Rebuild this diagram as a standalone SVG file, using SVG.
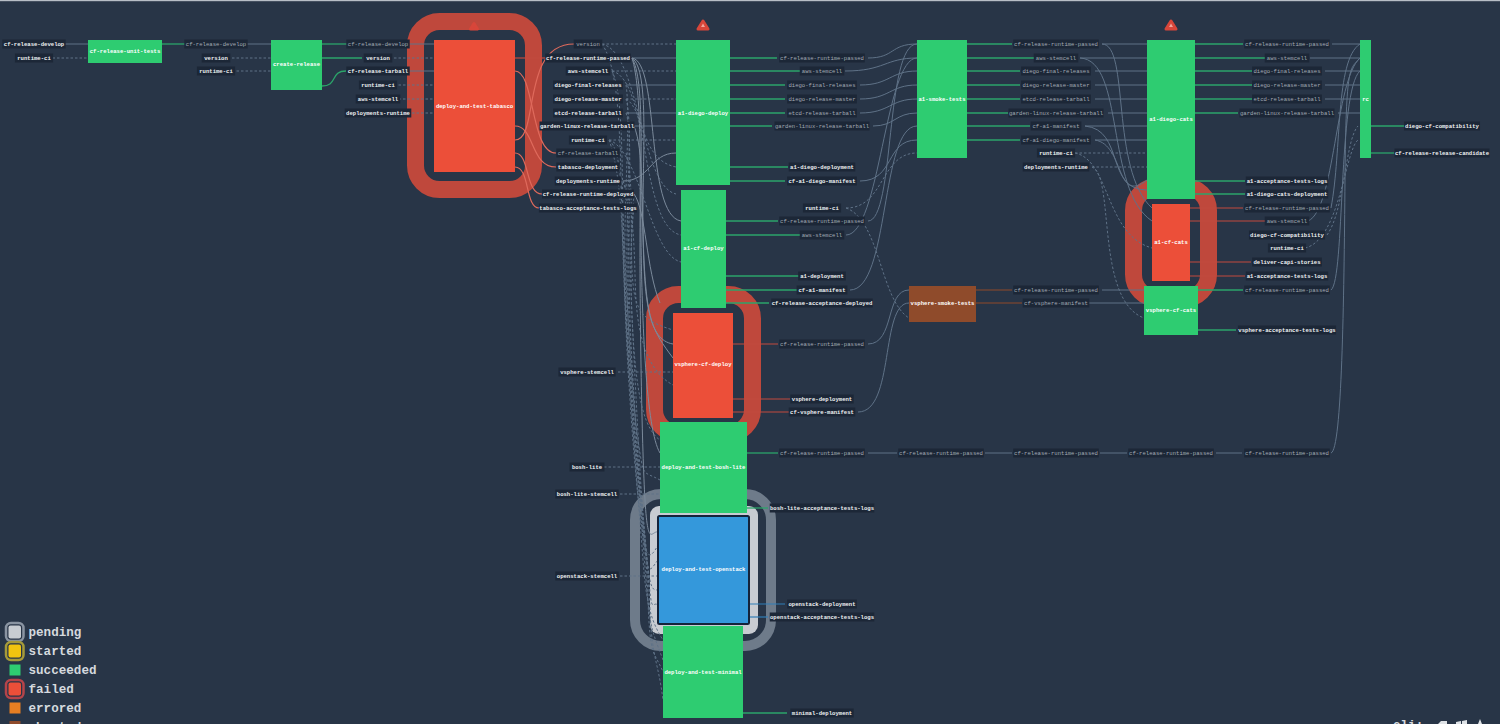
<svg xmlns="http://www.w3.org/2000/svg" width="1500" height="724" viewBox="0 0 1500 724">
<style>
text{font-family:"Liberation Mono","DejaVu Sans Mono",monospace;font-weight:700}
.l rect{fill:#1c2737;transform:scale(.93,.9)}
.l text{font-size:5.6px;fill:#eef0f2;text-anchor:middle}
.l.m text{fill:#a3abb5;font-weight:400}
.n text{font-size:5.6px;fill:#fff;text-anchor:middle}
.s{fill:#2ecc71}.f{fill:#ec4f39}.a{fill:#8f4b2b}.b{fill:#3498db;stroke:#14233a;stroke-width:2}
.h{fill:none;stroke:#bf483c;stroke-width:17}
#c path{fill:none;stroke:#5f7287;stroke-width:1}
#c .d{stroke-dasharray:2.5 2}
#c .v{stroke:#7b8a9b}
#c .g{stroke:#2ba56a;stroke-width:1.3}
#c .r{stroke:#c24a3e;stroke-width:1.2}
#c .p{stroke:#df6a5c;stroke-width:1.2}
#c .w{stroke:#8f4b2b;stroke-width:1.2}
#c .u{stroke:#2f7fb8;stroke-width:1.2}
.t{fill:#d8463a;stroke:#d8463a;stroke-width:3;stroke-linejoin:round}
.lg{font-size:12.6px;fill:#d5d9de}
</style>
<rect width="1500" height="724" fill="#283547"/>
<rect width="1500" height="1.2" fill="#b8bec6"/>
<g id="halos">
<rect class="h" x="415.5" y="21.5" width="118" height="168" rx="24"/>
<rect class="h" x="654.5" y="294.5" width="98" height="139" rx="24"/>
<rect class="h" x="1133.5" y="186.5" width="75" height="112" rx="24"/>
<rect x="635" y="494" width="136" height="152" rx="26" fill="none" stroke="#6e7b8a" stroke-width="10"/>
<rect x="650" y="506" width="108" height="128" rx="9" fill="#c8ccd2"/>
</g>
<g id="c">
<path d="M64 44H88"/><path class="d" d="M48 58H88"/>
<path class="g" d="M162 44H185"/><path d="M246 44H271"/><path class="d" d="M232 58H271"/><path class="d" d="M232 71H271"/>
<path class="g" d="M322 44H347"/><path class="g" d="M322 58H362"/><path class="g" d="M322 86C338 86 330 71 346 71"/>
<path d="M410 44H434"/><path class="d" d="M394 58H434"/><path d="M410 71H434"/><path class="d" d="M394 85H434"/><path class="d" d="M394 99H434"/><path class="d" d="M412 113H434"/>
<path class="r" d="M515 58H546"/><path class="p" d="M515 140C540 140 520 44 574 44"/>
<path class="p" d="M515 71C535 71 530 153 556 153"/><path class="p" d="M515 126C535 126 530 167 556 167"/>
<path class="p" d="M515 153C530 153 525 194 542 194"/><path class="p" d="M515 167C530 167 525 208 539 208"/>
<path class="d" d="M602 44H676"/><path d="M632 58H676"/><path class="d" d="M612 71H676"/><path d="M626 85H676"/><path class="d" d="M626 99H676"/><path d="M626 113H676"/><path d="M634 126H676"/><path class="d" d="M609 140H676"/>
<path class="v" d="M623 181C650 181 650 153 676 153"/>
<path class="v" d="M632 58C660 62 645 215 681 221"/>
<path class="d" d="M612 71C650 80 640 228 681 235"/><path class="d" d="M602 44C640 52 640 186 676 194"/><path class="d" d="M609 140C640 150 650 255 681 262"/><path class="d" d="M626 99C645 110 640 160 676 167"/>
<path class="v" d="M632 58C650 70 642 160 643 230S648 340 673 344"/>
<path class="v" d="M632 58C645 80 640 160 641 240S646 430 660 453"/>
<path class="v" d="M632 58C642 90 640 170 640 250S642 450 645 500S652 530 658 532"/>
<path class="v" d="M634 126C644 150 641 200 644 260S652 330 673 358"/>
<path class="v" d="M634 194C646 210 646 270 660 303"/>
<path class="d" d="M612 71C622 90 622 150 623 220S626 340 630 400S638 500 642 530S650 560 658 545"/>
<path class="d" d="M626 85C630 110 626 170 625 230S628 350 632 410S640 500 644 540S650 570 658 560"/>
<path class="d" d="M626 99C632 120 628 170 627 240S630 360 634 420S642 510 646 550S652 590 658 590"/>
<path class="d" d="M626 113C632 130 629 180 629 250S632 370 636 430S644 520 648 570S652 600 658 605"/>
<path class="d" d="M609 140C622 150 622 200 625 260S632 400 638 440S642 470 660 480"/>
<path class="d" d="M602 44C620 70 620 140 622 220S628 360 633 430S640 520 643 560S650 620 663 640"/>
<path class="d" d="M609 140C620 170 622 220 624 270S630 380 636 450S642 530 646 580S652 630 663 660"/>
<path class="d" d="M623 181C630 200 628 240 628 280S634 390 638 460S646 540 648 600S654 650 663 672"/>
<path class="d" d="M634 194C632 220 630 260 631 290S636 400 640 470S648 560 650 610S658 660 663 700"/>
<path class="d" d="M626 153C634 180 630 230 632 270S640 320 673 330"/>
<path class="d" d="M623 181C636 210 634 270 636 300S645 370 673 385"/>
<path class="d" d="M634 208C630 240 630 300 634 350S645 430 660 440"/>
<path class="d" d="M618 372H673"/><path class="d" d="M604 467H660"/><path class="d" d="M620 494H660"/><path class="d" d="M620 576H658"/>
<path class="g" d="M730 58H777"/><path class="g" d="M730 71H800"/><path class="g" d="M730 85H785"/><path class="g" d="M730 99H785"/><path class="g" d="M730 113H785"/><path class="g" d="M730 126H772"/><path class="g" d="M730 167H788"/><path class="g" d="M730 181H785"/>
<path class="g" d="M726 221H778"/><path class="g" d="M726 235H802"/><path class="g" d="M726 276H801"/><path class="g" d="M726 290H797"/><path class="g" d="M726 303H769"/>
<path class="r" d="M733 344H778"/><path class="r" d="M733 399H790"/><path class="r" d="M733 412H789"/>
<path class="g" d="M747 453H778"/><path class="g" d="M747 508H768"/>
<path class="u" d="M749 604H785"/><path class="u" d="M749 617H768"/><path class="g" d="M743 713H787"/>
<path d="M868 58C895 58 890 44 917 44"/><path d="M845 71C885 71 885 58 917 58"/><path d="M860 85C890 85 890 71 917 71"/><path d="M860 99C890 99 890 85 917 85"/><path d="M860 113C890 113 890 99 917 99"/><path d="M873 126C895 126 895 113 917 113"/>
<path d="M860 181C895 181 885 140 917 140"/>
<path d="M868 221C895 221 885 44 917 44"/><path d="M846 235C880 235 885 58 917 58"/><path d="M850 290C890 290 880 126 917 126"/>
<path class="d" d="M846 208C885 208 880 153 917 153"/><path class="d" d="M846 208C880 220 880 300 909 318"/>
<path d="M868 344C895 344 885 290 909 290"/><path d="M858 412C895 412 880 303 909 303"/>
<path d="M868 453H897"/><path d="M985 453H1012"/><path d="M1100 453H1127"/><path d="M1216 453H1242"/>
<path class="g" d="M967 44H1012"/><path class="g" d="M967 58H1035"/><path class="g" d="M967 71H1020"/><path class="g" d="M967 85H1020"/><path class="g" d="M967 99H1020"/><path class="g" d="M967 113H1008"/><path class="g" d="M967 126H1030"/><path class="g" d="M967 140H1020"/>
<path class="w" d="M976 290H1012"/><path class="w" d="M976 303H1022"/>
<path d="M1102 44H1147"/><path d="M1080 58H1147"/><path d="M1095 71H1147"/><path d="M1095 85H1147"/><path d="M1095 99H1147"/><path d="M1108 113H1147"/><path d="M1085 126H1147"/><path d="M1095 140H1147"/>
<path d="M1102 44C1130 44 1110 170 1152 208"/><path d="M1080 58C1125 60 1105 190 1152 221"/><path d="M1085 126C1125 130 1105 190 1147 190"/><path d="M1095 140C1125 145 1115 205 1147 180"/>
<path class="d" d="M1075 153H1147"/><path class="d" d="M1075 153C1110 160 1105 235 1152 248"/><path class="d" d="M1092 167H1147"/><path class="d" d="M1092 167C1115 175 1095 300 1144 318"/>
<path d="M1102 290H1144"/><path d="M1088 303H1144"/>
<path class="g" d="M1195 44H1243"/><path class="g" d="M1195 58H1266"/><path class="g" d="M1195 71H1252"/><path class="g" d="M1195 85H1252"/><path class="g" d="M1195 99H1252"/><path class="g" d="M1195 113H1238"/><path class="g" d="M1195 181H1245"/><path class="g" d="M1195 194H1245"/>
<path class="r" d="M1190 208H1243"/><path class="r" d="M1190 221H1266"/><path class="r" d="M1190 262H1251"/><path class="r" d="M1190 276H1245"/>
<path class="g" d="M1198 290H1243"/><path class="g" d="M1198 330H1236"/>
<path d="M1332 44H1360"/><path d="M1310 58H1360"/><path d="M1325 71H1360"/><path d="M1325 85H1360"/><path d="M1325 99H1360"/><path d="M1338 113H1360"/>
<path d="M1331 208C1342 150 1335 60 1360 44"/><path d="M1308 221C1335 210 1335 80 1360 58"/><path d="M1331 290C1345 280 1338 90 1360 71"/><path d="M1331 453C1342 450 1344 300 1345 180S1350 70 1360 58"/>
<path class="d" d="M1327 235C1345 210 1345 140 1358 126"/><path class="d" d="M1305 248C1340 240 1345 150 1358 140"/>
<path class="g" d="M1371 126H1404"/><path class="g" d="M1371 153H1394"/>
</g>
<g id="unit" class="n"><rect class="s" x="88" y="40" width="74" height="23"/><text x="125" y="53">cf-release-unit-tests</text></g>
<g id="create" class="n"><rect class="s" x="271" y="40" width="51" height="50"/><text x="296.5" y="66">create-release</text></g>
<g id="tabasco" class="n"><rect class="f" x="434" y="40" width="81" height="132"/><text x="474.5" y="108">deploy-and-test-tabasco</text></g>
<g id="diego-deploy" class="n"><rect class="s" x="676" y="40" width="54" height="145"/><text x="703" y="115">a1-diego-deploy</text></g>
<g id="cf-deploy" class="n"><rect class="s" x="681" y="190" width="45" height="118"/><text x="703.5" y="250">a1-cf-deploy</text></g>
<g id="vsphere-deploy" class="n"><rect class="f" x="673" y="313" width="60" height="105"/><text x="703" y="366">vsphere-cf-deploy</text></g>
<g id="bosh-lite-node" class="n"><rect class="s" x="660" y="422" width="87" height="91"/><text x="703.5" y="469">deploy-and-test-bosh-lite</text></g>
<g id="openstack" class="n"><rect class="b" x="658" y="516" width="91" height="108" rx="1.5"/><text x="703.5" y="571">deploy-and-test-openstack</text></g>
<g id="minimal" class="n"><rect class="s" x="663" y="626" width="80" height="92"/><text x="703" y="674">deploy-and-test-minimal</text></g>
<g id="smoke" class="n"><rect class="s" x="917" y="40" width="50" height="118"/><text x="942" y="101">a1-smoke-tests</text></g>
<g id="vsphere-smoke" class="n"><rect class="a" x="909" y="286" width="67" height="36"/><text x="942.5" y="305">vsphere-smoke-tests</text></g>
<g id="diego-cats" class="n"><rect class="s" x="1147" y="40" width="48" height="159"/><text x="1171" y="121">a1-diego-cats</text></g>
<g id="cf-cats" class="n"><rect class="f" x="1152" y="204" width="38" height="77"/><text x="1171" y="243.500">a1-cf-cats</text></g>
<g id="vsphere-cats" class="n"><rect class="s" x="1144" y="286" width="54" height="49"/><text x="1171" y="312">vsphere-cf-cats</text></g>
<g id="rc" class="n"><rect class="s" x="1360" y="40" width="11" height="118"/><text x="1365.500" y="101">rc</text></g>
<g id="warnings">
<path class="t" d="M474 23.500L477.500 29H470.500Z"/><path class="t" d="M703 21L708 29H698Z"/><path class="t" d="M1171 21L1176 29H1166Z"/>
<path d="M703 23.500L705 27H701Z M1171 23.500L1173 27H1169Z" fill="#f0a59c"/>
</g>
<g id="l1" class="l" transform="translate(34,44)"><rect x="-34.100" y="-5" width="68.200" height="10"/><text y="1.800">cf-release-develop</text></g>
<g id="l2" class="l" transform="translate(34,58)"><rect x="-20.500" y="-5" width="41" height="10"/><text y="1.800">runtime-ci</text></g>
<g id="l3" class="l m" transform="translate(216,44)"><rect x="-34.100" y="-5" width="68.200" height="10"/><text y="1.800">cf-release-develop</text></g>
<g id="l4" class="l" transform="translate(216,58)"><rect x="-15.400" y="-5" width="30.800" height="10"/><text y="1.800">version</text></g>
<g id="l5" class="l" transform="translate(216,71)"><rect x="-20.500" y="-5" width="41" height="10"/><text y="1.800">runtime-ci</text></g>
<g id="l6" class="l m" transform="translate(378,44)"><rect x="-34.100" y="-5" width="68.200" height="10"/><text y="1.800">cf-release-develop</text></g>
<g id="l7" class="l" transform="translate(378,58)"><rect x="-15.400" y="-5" width="30.800" height="10"/><text y="1.800">version</text></g>
<g id="l8" class="l" transform="translate(378,71)"><rect x="-34.100" y="-5" width="68.200" height="10"/><text y="1.800">cf-release-tarball</text></g>
<g id="l9" class="l" transform="translate(378,85)"><rect x="-20.500" y="-5" width="41" height="10"/><text y="1.800">runtime-ci</text></g>
<g id="l10" class="l" transform="translate(378,99)"><rect x="-23.900" y="-5" width="47.800" height="10"/><text y="1.800">aws-stemcell</text></g>
<g id="l11" class="l" transform="translate(378,113)"><rect x="-35.800" y="-5" width="71.600" height="10"/><text y="1.800">deployments-runtime</text></g>
<g id="l12" class="l m" transform="translate(588,44)"><rect x="-15.400" y="-5" width="30.800" height="10"/><text y="1.800">version</text></g>
<g id="l13" class="l" transform="translate(588,58)"><rect x="-46" y="-5" width="92" height="10"/><text y="1.800">cf-release-runtime-passed</text></g>
<g id="l14" class="l" transform="translate(588,71)"><rect x="-23.900" y="-5" width="47.800" height="10"/><text y="1.800">aws-stemcell</text></g>
<g id="l15" class="l" transform="translate(588,85)"><rect x="-37.500" y="-5" width="75" height="10"/><text y="1.800">diego-final-releases</text></g>
<g id="l16" class="l" transform="translate(588,99)"><rect x="-37.500" y="-5" width="75" height="10"/><text y="1.800">diego-release-master</text></g>
<g id="l17" class="l" transform="translate(588,113)"><rect x="-37.500" y="-5" width="75" height="10"/><text y="1.800">etcd-release-tarball</text></g>
<g id="l18" class="l" transform="translate(587,126)"><rect x="-51.100" y="-5" width="102.200" height="10"/><text y="1.800">garden-linux-release-tarball</text></g>
<g id="l19" class="l" transform="translate(588,140)"><rect x="-20.500" y="-5" width="41" height="10"/><text y="1.800">runtime-ci</text></g>
<g id="l20" class="l m" transform="translate(588,153)"><rect x="-34.100" y="-5" width="68.200" height="10"/><text y="1.800">cf-release-tarball</text></g>
<g id="l21" class="l" transform="translate(588,167)"><rect x="-34.100" y="-5" width="68.200" height="10"/><text y="1.800">tabasco-deployment</text></g>
<g id="l22" class="l" transform="translate(588,181)"><rect x="-35.800" y="-5" width="71.600" height="10"/><text y="1.800">deployments-runtime</text></g>
<g id="l23" class="l" transform="translate(588,194)"><rect x="-49.400" y="-5" width="98.800" height="10"/><text y="1.800">cf-release-runtime-deployed</text></g>
<g id="l24" class="l" transform="translate(588,208)"><rect x="-52.800" y="-5" width="105.600" height="10"/><text y="1.800">tabasco-acceptance-tests-logs</text></g>
<g id="l25" class="l" transform="translate(587,372)"><rect x="-30.700" y="-5" width="61.400" height="10"/><text y="1.800">vsphere-stemcell</text></g>
<g id="l26" class="l" transform="translate(587,467)"><rect x="-18.800" y="-5" width="37.600" height="10"/><text y="1.800">bosh-lite</text></g>
<g id="l27" class="l" transform="translate(587,494)"><rect x="-34.100" y="-5" width="68.200" height="10"/><text y="1.800">bosh-lite-stemcell</text></g>
<g id="l28" class="l" transform="translate(587,576)"><rect x="-34.100" y="-5" width="68.200" height="10"/><text y="1.800">openstack-stemcell</text></g>
<g id="l29" class="l m" transform="translate(822,58)"><rect x="-46" y="-5" width="92" height="10"/><text y="1.800">cf-release-runtime-passed</text></g>
<g id="l30" class="l m" transform="translate(822,71)"><rect x="-23.900" y="-5" width="47.800" height="10"/><text y="1.800">aws-stemcell</text></g>
<g id="l31" class="l m" transform="translate(822,85)"><rect x="-37.500" y="-5" width="75" height="10"/><text y="1.800">diego-final-releases</text></g>
<g id="l32" class="l m" transform="translate(822,99)"><rect x="-37.500" y="-5" width="75" height="10"/><text y="1.800">diego-release-master</text></g>
<g id="l33" class="l m" transform="translate(822,113)"><rect x="-37.500" y="-5" width="75" height="10"/><text y="1.800">etcd-release-tarball</text></g>
<g id="l34" class="l m" transform="translate(822,126)"><rect x="-51.100" y="-5" width="102.200" height="10"/><text y="1.800">garden-linux-release-tarball</text></g>
<g id="l35" class="l" transform="translate(822,167)"><rect x="-35.800" y="-5" width="71.600" height="10"/><text y="1.800">a1-diego-deployment</text></g>
<g id="l36" class="l" transform="translate(822,181)"><rect x="-37.500" y="-5" width="75" height="10"/><text y="1.800">cf-a1-diego-manifest</text></g>
<g id="l37" class="l" transform="translate(822,208)"><rect x="-20.500" y="-5" width="41" height="10"/><text y="1.800">runtime-ci</text></g>
<g id="l38" class="l m" transform="translate(822,221)"><rect x="-46" y="-5" width="92" height="10"/><text y="1.800">cf-release-runtime-passed</text></g>
<g id="l39" class="l m" transform="translate(822,235)"><rect x="-23.900" y="-5" width="47.800" height="10"/><text y="1.800">aws-stemcell</text></g>
<g id="l40" class="l" transform="translate(822,276)"><rect x="-25.600" y="-5" width="51.200" height="10"/><text y="1.800">a1-deployment</text></g>
<g id="l41" class="l" transform="translate(822,290)"><rect x="-27.300" y="-5" width="54.600" height="10"/><text y="1.800">cf-a1-manifest</text></g>
<g id="l42" class="l" transform="translate(822,303)"><rect x="-54.500" y="-5" width="109" height="10"/><text y="1.800">cf-release-acceptance-deployed</text></g>
<g id="l43" class="l m" transform="translate(822,344)"><rect x="-46" y="-5" width="92" height="10"/><text y="1.800">cf-release-runtime-passed</text></g>
<g id="l44" class="l" transform="translate(822,399)"><rect x="-34.100" y="-5" width="68.200" height="10"/><text y="1.800">vsphere-deployment</text></g>
<g id="l45" class="l" transform="translate(822,412)"><rect x="-35.800" y="-5" width="71.600" height="10"/><text y="1.800">cf-vsphere-manifest</text></g>
<g id="l46" class="l m" transform="translate(822,453)"><rect x="-46" y="-5" width="92" height="10"/><text y="1.800">cf-release-runtime-passed</text></g>
<g id="l47" class="l" transform="translate(822,508)"><rect x="-56.200" y="-5" width="112.400" height="10"/><text y="1.800">bosh-lite-acceptance-tests-logs</text></g>
<g id="l48" class="l" transform="translate(822,604)"><rect x="-37.500" y="-5" width="75" height="10"/><text y="1.800">openstack-deployment</text></g>
<g id="l49" class="l" transform="translate(822,617)"><rect x="-56.200" y="-5" width="112.400" height="10"/><text y="1.800">openstack-acceptance-tests-logs</text></g>
<g id="l50" class="l" transform="translate(822,713)"><rect x="-34.100" y="-5" width="68.200" height="10"/><text y="1.800">minimal-deployment</text></g>
<g id="l51" class="l m" transform="translate(941,453)"><rect x="-46" y="-5" width="92" height="10"/><text y="1.800">cf-release-runtime-passed</text></g>
<g id="l52" class="l m" transform="translate(1056,44)"><rect x="-46" y="-5" width="92" height="10"/><text y="1.800">cf-release-runtime-passed</text></g>
<g id="l53" class="l m" transform="translate(1056,58)"><rect x="-23.900" y="-5" width="47.800" height="10"/><text y="1.800">aws-stemcell</text></g>
<g id="l54" class="l m" transform="translate(1056,71)"><rect x="-37.500" y="-5" width="75" height="10"/><text y="1.800">diego-final-releases</text></g>
<g id="l55" class="l m" transform="translate(1056,85)"><rect x="-37.500" y="-5" width="75" height="10"/><text y="1.800">diego-release-master</text></g>
<g id="l56" class="l m" transform="translate(1056,99)"><rect x="-37.500" y="-5" width="75" height="10"/><text y="1.800">etcd-release-tarball</text></g>
<g id="l57" class="l m" transform="translate(1056,113)"><rect x="-51.100" y="-5" width="102.200" height="10"/><text y="1.800">garden-linux-release-tarball</text></g>
<g id="l58" class="l m" transform="translate(1056,126)"><rect x="-27.300" y="-5" width="54.600" height="10"/><text y="1.800">cf-a1-manifest</text></g>
<g id="l59" class="l m" transform="translate(1056,140)"><rect x="-37.500" y="-5" width="75" height="10"/><text y="1.800">cf-a1-diego-manifest</text></g>
<g id="l60" class="l" transform="translate(1056,153)"><rect x="-20.500" y="-5" width="41" height="10"/><text y="1.800">runtime-ci</text></g>
<g id="l61" class="l" transform="translate(1056,167)"><rect x="-35.800" y="-5" width="71.600" height="10"/><text y="1.800">deployments-runtime</text></g>
<g id="l62" class="l m" transform="translate(1056,290)"><rect x="-46" y="-5" width="92" height="10"/><text y="1.800">cf-release-runtime-passed</text></g>
<g id="l63" class="l m" transform="translate(1056,303)"><rect x="-35.800" y="-5" width="71.600" height="10"/><text y="1.800">cf-vsphere-manifest</text></g>
<g id="l64" class="l m" transform="translate(1056,453)"><rect x="-46" y="-5" width="92" height="10"/><text y="1.800">cf-release-runtime-passed</text></g>
<g id="l65" class="l m" transform="translate(1171,453)"><rect x="-46" y="-5" width="92" height="10"/><text y="1.800">cf-release-runtime-passed</text></g>
<g id="l66" class="l m" transform="translate(1287,44)"><rect x="-46" y="-5" width="92" height="10"/><text y="1.800">cf-release-runtime-passed</text></g>
<g id="l67" class="l m" transform="translate(1287,58)"><rect x="-23.900" y="-5" width="47.800" height="10"/><text y="1.800">aws-stemcell</text></g>
<g id="l68" class="l m" transform="translate(1287,71)"><rect x="-37.500" y="-5" width="75" height="10"/><text y="1.800">diego-final-releases</text></g>
<g id="l69" class="l m" transform="translate(1287,85)"><rect x="-37.500" y="-5" width="75" height="10"/><text y="1.800">diego-release-master</text></g>
<g id="l70" class="l m" transform="translate(1287,99)"><rect x="-37.500" y="-5" width="75" height="10"/><text y="1.800">etcd-release-tarball</text></g>
<g id="l71" class="l m" transform="translate(1287,113)"><rect x="-51.100" y="-5" width="102.200" height="10"/><text y="1.800">garden-linux-release-tarball</text></g>
<g id="l72" class="l" transform="translate(1287,181)"><rect x="-44.300" y="-5" width="88.600" height="10"/><text y="1.800">a1-acceptance-tests-logs</text></g>
<g id="l73" class="l" transform="translate(1287,194)"><rect x="-44.300" y="-5" width="88.600" height="10"/><text y="1.800">a1-diego-cats-deployment</text></g>
<g id="l74" class="l m" transform="translate(1287,208)"><rect x="-46" y="-5" width="92" height="10"/><text y="1.800">cf-release-runtime-passed</text></g>
<g id="l75" class="l m" transform="translate(1287,221)"><rect x="-23.900" y="-5" width="47.800" height="10"/><text y="1.800">aws-stemcell</text></g>
<g id="l76" class="l" transform="translate(1287,235)"><rect x="-40.900" y="-5" width="81.800" height="10"/><text y="1.800">diego-cf-compatibility</text></g>
<g id="l77" class="l" transform="translate(1287,248)"><rect x="-20.500" y="-5" width="41" height="10"/><text y="1.800">runtime-ci</text></g>
<g id="l78" class="l" transform="translate(1287,262)"><rect x="-37.500" y="-5" width="75" height="10"/><text y="1.800">deliver-capi-stories</text></g>
<g id="l79" class="l" transform="translate(1287,276)"><rect x="-44.300" y="-5" width="88.600" height="10"/><text y="1.800">a1-acceptance-tests-logs</text></g>
<g id="l80" class="l m" transform="translate(1287,290)"><rect x="-46" y="-5" width="92" height="10"/><text y="1.800">cf-release-runtime-passed</text></g>
<g id="l81" class="l" transform="translate(1287,330)"><rect x="-52.800" y="-5" width="105.600" height="10"/><text y="1.800">vsphere-acceptance-tests-logs</text></g>
<g id="l82" class="l m" transform="translate(1287,453)"><rect x="-46" y="-5" width="92" height="10"/><text y="1.800">cf-release-runtime-passed</text></g>
<g id="l83" class="l" transform="translate(1442,126)"><rect x="-40.900" y="-5" width="81.800" height="10"/><text y="1.800">diego-cf-compatibility</text></g>
<g id="l84" class="l" transform="translate(1442,153)"><rect x="-51.100" y="-5" width="102.200" height="10"/><text y="1.800">cf-release-release-candidate</text></g>
<g id="legend">
<rect x="6" y="623" width="17.500" height="18" rx="5" fill="#283547" stroke="#8a94a2" stroke-width="2.500"/><rect x="8.500" y="625.500" width="12.500" height="13" rx="2" fill="#c8ccd2"/>
<rect x="6" y="642" width="17.500" height="18" rx="5" fill="#283547" stroke="#a59a3a" stroke-width="2.500"/><rect x="8.500" y="644.500" width="12.500" height="13" rx="2" fill="#f1c40f"/>
<rect x="9.500" y="664.500" width="11" height="11" fill="#2ecc71"/>
<rect x="6" y="680" width="17.500" height="18" rx="5" fill="#283547" stroke="#b5444a" stroke-width="2.500"/><rect x="8.500" y="682.500" width="12.500" height="13" rx="2" fill="#ec4f39"/>
<rect x="9.500" y="702.500" width="11" height="11" fill="#e67e22"/>
<rect x="9.500" y="721" width="11" height="11" fill="#8f4b2b"/>
<text class="lg" x="28.500" y="635.800">pending</text>
<text class="lg" x="28.500" y="654.800">started</text>
<text class="lg" x="28.500" y="673.800">succeeded</text>
<text class="lg" x="28.500" y="692.800">failed</text>
<text class="lg" x="28.500" y="711.500">errored</text>
<text class="lg" x="28.500" y="730.500">aborted</text>
</g>
<g id="footer">
<text x="1393" y="729" font-size="12.600" fill="#d5d9de">cli:</text>
<path d="M1438 724L1441 721H1447V724Z M1456 724V722L1461 721V724Z M1462 724V721L1467 720V724Z M1478 724L1480 719L1482 724Z" fill="#dfe3e7"/>
</g>
</svg>
